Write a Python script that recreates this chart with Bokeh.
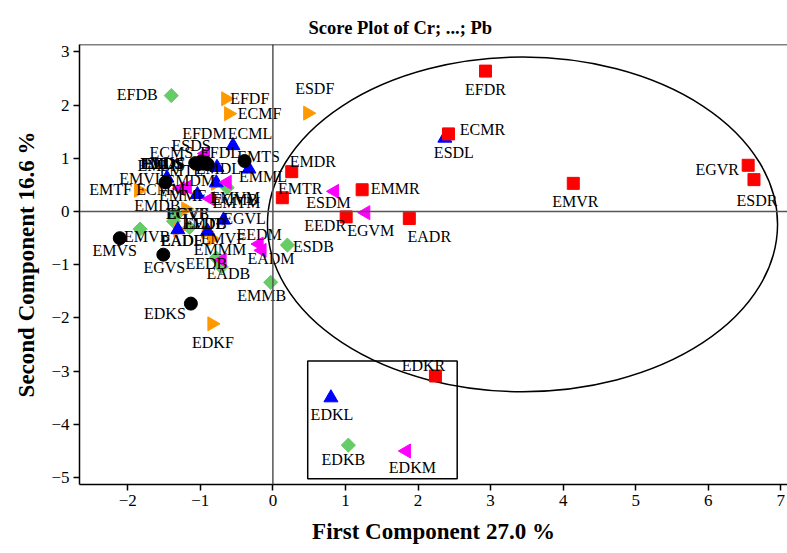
import math
from bokeh.plotting import figure
from bokeh.models import Range1d, FixedTicker, Span, ColumnDataSource
from bokeh.embed import file_html
from bokeh.resources import INLINE
from bokeh.core.properties import value

# ---------------- data ----------------
title_text = "Score Plot of Cr; ...; Pb"
x_label = "First Component 27.0 %"
y_label = "Second Component 16.6 %"
x_ticks = [-2, -1, 0, 1, 2, 3, 4, 5, 6, 7]
y_ticks = [-5, -4, -3, -2, -1, 0, 1, 2, 3]

# R group (red squares)
r_names = ["EFDR", "ECMR", "EMDR", "EMTR", "EMMR", "EEDR", "EADR", "EMVR", "EGVR", "ESDR", "EDKR"]
r_x = [2.93, 2.42, 0.26, 0.13, 1.23, 1.01, 1.88, 4.14, 6.55, 6.63, 2.24]
r_y = [2.64, 1.46, 0.75, 0.26, 0.41, -0.10, -0.13, 0.53, 0.87, 0.60, -3.09]

# L group (blue triangles)
l_names = ["ECML", "ESDL", "EDKL", "EGVL", "EADL", "EEDL", "EMVL", "EFDL", "EMDL", "EMML", "EMTL"]
l_x = [-0.55, 2.37, 0.80, -0.68, -1.31, -0.90, -1.46, -0.77, -1.04, -0.33, -0.78]
l_y = [1.24, 1.38, -3.50, -0.16, -0.34, -0.37, 0.63, 0.83, 0.32, 0.80, 0.54]

# S group (black circles)
s_names = ["EMTS", "ECMS", "EMDS", "ESDS", "EFDS", "EMMS", "EEDS", "EADS", "EMVS", "EGVS", "EDKS"]
s_x = [-0.39, -1.07, -0.90, -0.99, -0.96, -1.03, -0.93, -1.48, -2.11, -1.51, -1.13]
s_y = [0.95, 0.91, 0.89, 0.94, 0.90, 0.89, 0.92, 0.55, -0.50, -0.81, -1.73]

# M group (magenta left triangles)
m_names = ["EFDM", "ECMM", "ESDM", "EMDM", "EMTM", "EMMM", "EEDM", "EADM", "EMVM", "EGVM", "EDKM"]
m_x = [-0.93, -1.27, 0.85, -1.18, -0.86, -0.70, -0.19, -0.15, -0.63, 1.28, 1.84]
m_y = [1.09, 0.43, 0.38, 0.46, 0.24, -0.91, -0.61, -0.73, 0.55, -0.02, -4.50]

# B group (green diamonds)
b_names = ["EFDB", "ECMB", "ESDB", "EMDB", "EMTB", "EMMB", "EEDB", "EADB", "EMVB", "EGVB", "EDKB"]
b_x = [-1.40, -0.63, 0.20, -1.33, -1.15, -0.03, -0.78, -0.71, -1.83, -1.37, 1.04]
b_y = [2.18, 0.45, -0.63, -0.06, -0.30, -1.33, -0.87, -1.04, -0.33, -0.18, -4.39]

# F group (orange right triangles)
f_names = ["EFDF", "ECMF", "ESDF", "EMTF", "EMVF", "EDKF", "EGVF", "EMDF", "EMMF", "EEDF", "EADF"]
f_x = [-0.65, -0.61, 0.48, -1.85, -0.84, -0.84, -1.20, -1.04, -0.79, -0.92, -1.31]
f_y = [2.12, 1.84, 1.85, 0.40, -0.51, -2.11, 0.05, 0.90, 0.53, -0.38, -0.34]

# confidence ellipse and highlight box (data units)
ell_cx, ell_cy, ell_w, ell_h = 3.44, -0.24, 7.03, 6.29
box_left, box_right, box_top, box_bottom = 0.48, 2.54, -2.81, -5.02

# ---------------- label placement (screen px offsets) ----------------
r_dx = [0, 34, 21, 18, 33, -21, 20, 2, -31, 3, -12]
r_dy = [18, -4, -10, -9, -1, 9, 18, 18, 4, 21, -10]
l_dx = [17, 9, 1, 21, 4, -3, -25, 3, 21, 14, -35]
l_dy = [-12, 14, 17, -2, 11, -8, 0, -15, -26, 8, -12]
s_dx = [14, -24, -45, -10, -40, -37, -42, -3, -5, 1, -26]
s_dy = [-5, -11, -1, -16, 0, 1, 1, -19, 12, 13, 10]
m_dx = [-1, -20, -6, 3, 26, -2, 0, 9, 8, 5, 6]
m_dy = [-20, 1, 11, -7, 4, -10, -10, 8, 15, 18, 17]
b_dx = [-34, 8, 26, -19, 15, -9, -10, 7, 7, 14, -5]
b_dy = [-1, 12, 1, -9, -4, 13, 6, 7, 7, -8, 14]
f_dx = [24, 31, 7, -28, 11, 1, 2, -35, -33, -2, 4]
f_dy = [0, 0, -25, -1, 0, 19, 5, 0, 12, -8, 11]

SERIF = "Liberation Serif"
X0, X1 = -2.665, 7.092
Y0, Y1 = -5.13, 3.14

p = figure(width=787, height=553, output_backend="svg", toolbar_location=None,
           x_range=Range1d(X0, X1), y_range=Range1d(Y0, Y1),
           min_border_left=79, min_border_right=0, min_border_top=44, min_border_bottom=69)
p.outline_line_color = None
p.grid.visible = False
p.background_fill_color = "white"
p.border_fill_color = "white"

p.title.text = title_text
p.title.align = "left"
p.title.offset = 229
p.title.vertical_align = "top"
p.title.text_font = SERIF
p.title.text_font_size = "18.5px"
p.title.text_font_style = "bold"
p.title.text_color = "black"
p.title.standoff = 10

for ax, ticks in ((p.xaxis[0], x_ticks), (p.yaxis[0], y_ticks)):
    ax.ticker = FixedTicker(ticks=ticks)
    ax.minor_tick_line_color = None
    ax.major_tick_in = 0
    ax.major_tick_out = 6
    ax.major_tick_line_width = 1.5
    ax.axis_line_width = 1.5
    ax.axis_line_color = "black"
    ax.major_tick_line_color = "black"
    ax.major_label_text_font = SERIF
    ax.major_label_text_font_size = "17px"
    ax.major_label_text_color = "black"
    ax.axis_label_text_font = SERIF
    ax.axis_label_text_font_size = "23px"
    ax.axis_label_text_font_style = "bold"
    ax.axis_label_text_color = "black"
p.xaxis.axis_label = x_label
p.yaxis.axis_label = y_label
p.xaxis.major_label_standoff = 4
p.yaxis.major_label_standoff = 4
p.xaxis.axis_label_standoff = 10
p.yaxis.axis_label_standoff = 9

# reference lines and top frame line
p.add_layout(Span(location=0, dimension="height", line_color="#555555", line_width=1.5))
p.add_layout(Span(location=0, dimension="width", line_color="#555555", line_width=1.5))
p.add_layout(Span(location=Y1, dimension="width", line_color="black", line_width=1.5))

p.ellipse(x=ell_cx, y=ell_cy, width=ell_w, height=ell_h, fill_color=None,
          line_color="black", line_width=1.5)
p.quad(left=box_left, right=box_right, top=box_top, bottom=box_bottom,
       fill_color=None, line_color="black", line_width=1.5)

groups = [
    (b_names, b_x, b_y, b_dx, b_dy, "square", 10, math.pi / 4, "#66CC66"),
    (f_names, f_x, f_y, f_dx, f_dy, "triangle", 14, -math.pi / 2, "#FF9900"),
    (l_names, l_x, l_y, l_dx, l_dy, "triangle", 14, 0.0, "#0000FF"),
    (m_names, m_x, m_y, m_dx, m_dy, "triangle", 14, math.pi / 2, "#FF00FF"),
    (r_names, r_x, r_y, r_dx, r_dy, "square", 12, 0.0, "#FF0000"),
    (s_names, s_x, s_y, s_dx, s_dy, "circle", 13, 0.0, "#000000"),
]

sources = []
for names, xs, ys, dxs, dys, marker, size, ang, col in groups:
    src = ColumnDataSource(dict(x=xs, y=ys, name=names, dx=dxs, dy=dys))
    sources.append(src)
    p.scatter(x="x", y="y", source=src, marker=marker, size=size, angle=ang,
              fill_color=col, line_color=col)

for src in sources:
    p.text(x="x", y="y", text="name", x_offset="dx", y_offset="dy", source=src,
           text_font=value(SERIF), text_font_size="16px", text_color="black",
           text_align="center", text_baseline="middle")

open("out.html", "w").write(file_html(p, INLINE))
